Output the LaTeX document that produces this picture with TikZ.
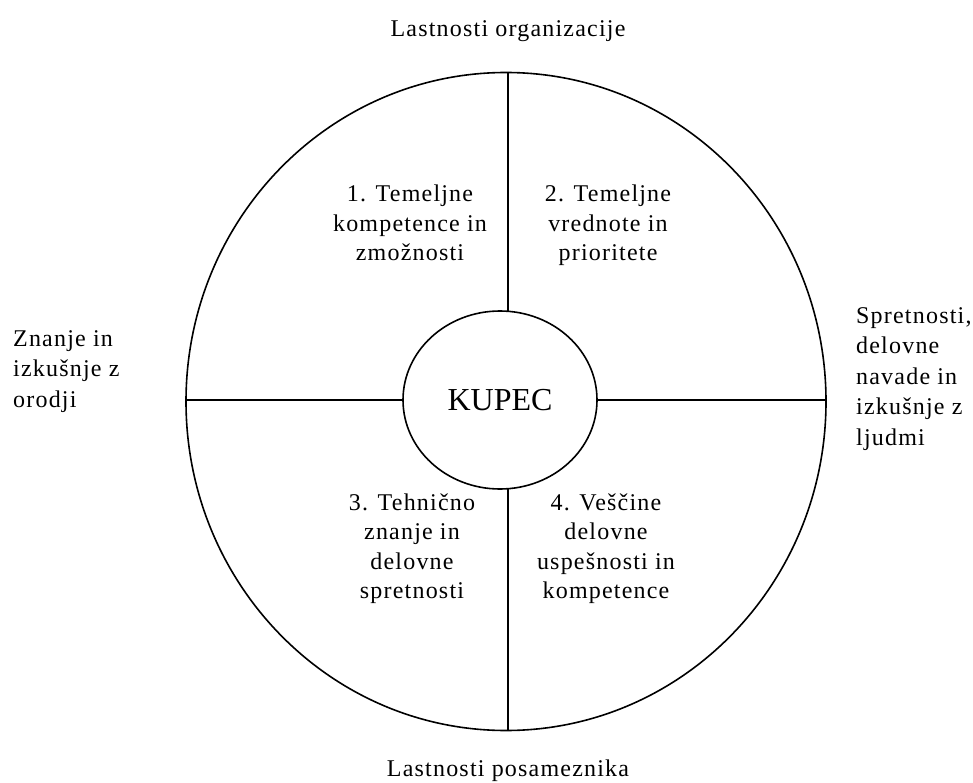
\documentclass[tikz,border=0pt]{standalone}
\usepackage{fontspec}
\setmainfont{Liberation Serif}[LetterSpace=5]
\newfontfamily\hubfont{Liberation Serif}
\usetikzlibrary{shapes.geometric}
\begin{document}
\begin{tikzpicture}[x=1pt,y=-1pt,
  line/.style={line width=1.6pt,black},
  label/.style={font=\fontsize{24}{29.5}\selectfont,align=center,inner sep=0pt},
  sidelabel/.style={font=\fontsize{24}{30.5}\selectfont,align=left,inner sep=0pt}]
\useasboundingbox (0,0) rectangle (973,783);

% outer wheel
\node[draw,line width=1.6pt,ellipse,minimum width=640,minimum height=658,inner sep=0pt] (wheel) at (506,401.5) {};
% hub
\node[draw,line width=1.6pt,ellipse,minimum width=194,minimum height=178,inner sep=0pt,
      font=\hubfont\fontsize{32}{36}\selectfont] (hub) at (500,400) {KUPEC};

% spokes
\coordinate (top) at (508,73);
\coordinate (bot) at (508,730);
\coordinate (lft) at (186,400);
\coordinate (rgt) at (826,400);
\coordinate (hubT) at (508,311.3);
\coordinate (hubB) at (508,488.7);
\draw[line] (top) -- (hubT);
\draw[line] (hubB) -- (bot);
\draw[line] (lft) -- (hub.west);
\draw[line] (hub.east) -- (rgt);

% quadrant texts (anchored at the last baseline)
\node[label,anchor=base] (q1) at (410,261) {1. Temeljne\\kompetence in\\zmožnosti};
\node[label,anchor=base] (q2) at (608,261) {2. Temeljne\\vrednote in\\prioritete};
\node[label,anchor=base] (q3) at (412,598.5) {3. Tehnično\\znanje in\\delovne\\spretnosti};
\node[label,anchor=base] (q4) at (606,598.5) {4. Veščine\\delovne\\uspešnosti in\\kompetence};

% outer labels
\node[label,anchor=base] (org) at (508,37) {Lastnosti organizacije};
\node[label,anchor=base] (pos) at (508,776) {Lastnosti posameznika};
\node[sidelabel,anchor=base west] (tools) at (13,407) {Znanje in\\izkušnje z\\orodji};
\node[sidelabel,anchor=base west] (people) at (856,445) {Spretnosti,\\delovne\\navade in\\izkušnje z\\ljudmi};
\end{tikzpicture}
\end{document}
